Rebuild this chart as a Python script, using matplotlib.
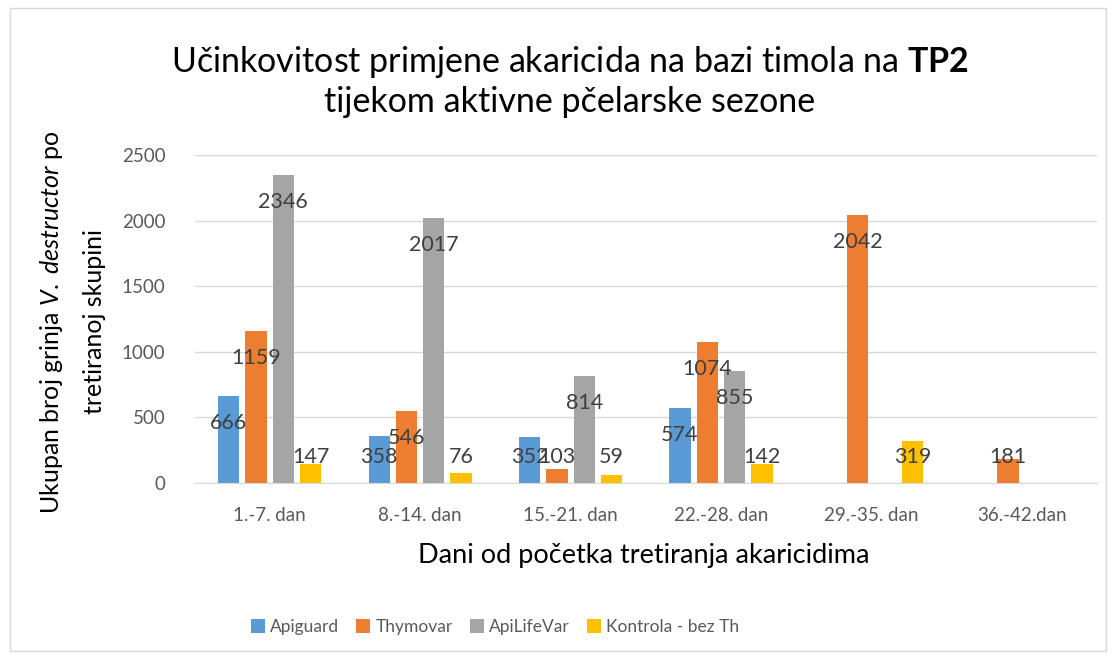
import numpy as np
import matplotlib
matplotlib.use("Agg")
import matplotlib.pyplot as plt
from matplotlib.patches import Rectangle

categories = ["1.-7. dan", "8.-14. dan", "15.-21. dan", "22.-28. dan", "29.-35. dan", "36.-42.dan"]
series_names = ["Apiguard", "Thymovar", "ApiLifeVar", "Kontrola - bez Th"]
apiguard = [666, 358, 352, 574, np.nan, np.nan]
thymovar = [1159, 546, 103, 1074, 2042, 181]
apilifevar = [2346, 2017, 814, 855, np.nan, np.nan]
kontrola = [147, 76, 59, 142, 319, np.nan]
yticks = [0, 500, 1000, 1500, 2000, 2500]
colors = ["#5B9BD5", "#ED7D31", "#A5A5A5", "#FFC000"]

FONT = "Lato"
plt.rcParams['font.family'] = [FONT, 'DejaVu Sans']
plt.rcParams['mathtext.fontset'] = 'custom'
plt.rcParams['mathtext.rm'] = FONT
plt.rcParams['mathtext.it'] = FONT + ':italic'
plt.rcParams['mathtext.bf'] = FONT + ':bold'

fig = plt.figure(figsize=(11.16, 6.59), dpi=100)
fig.patches.append(Rectangle((10/1116, 8/659), 1-20/1116, 1-16/659, transform=fig.transFigure,
                             fill=False, edgecolor="#d9d9d9", linewidth=1))
ax = fig.add_axes([194.5/1116, 1-483/659, 902.5/1116, (483-155)/659])

data = [apiguard, thymovar, apilifevar, kontrola]
x = np.arange(len(categories))
spacing = 0.1815
width = 0.1416
for k, (vals, name, c) in enumerate(zip(data, series_names, colors)):
    offs = (k - 1.5) * spacing
    vals = np.array(vals, dtype=float)
    ax.bar(x + offs, np.nan_to_num(vals), width=width, color=c, label=name, zorder=3)
    for xi, v in zip(x, vals):
        if np.isnan(v):
            continue
        ly = max(v - 206, 198)
        ax.text(xi + offs, ly, f"{int(v)}", ha="center", va="center",
                fontsize=15.5, color="#404040", zorder=5)

ax.set_xlim(-0.5, len(categories) - 0.5)
ax.set_ylim(0, 2500)
ax.set_yticks(yticks)
ax.set_xticks(x)
ax.set_xticklabels(categories)
ax.tick_params(axis="both", length=0, labelsize=13.5, labelcolor="#595959")
ax.tick_params(axis="x", pad=17)
ax.tick_params(axis="y", pad=21)
ax.grid(axis="y", color="#d9d9d9", linewidth=1, zorder=0)
for s in ["top", "right", "left"]:
    ax.spines[s].set_visible(False)
ax.spines["bottom"].set_color("#d9d9d9")
ax.spines["bottom"].set_zorder(4)

fig.text(570/1116, 1-62/659, r"Učinkovitost primjene akaricida na bazi timola na $\mathbf{TP2}$",
         ha="center", va="center", fontsize=24.5, color="#000000")
fig.text(570/1116, 1-102/659, "tijekom aktivne pčelarske sezone",
         ha="center", va="center", fontsize=24.5, color="#000000")

fig.text(52/1116, 1-322/659, r"Ukupan broj grinja $\mathit{V.\ destructor}$ po",
         ha="center", va="center", rotation=90, fontsize=18, color="#000000")
fig.text(94/1116, 1-322/659, "tretiranoj skupini",
         ha="center", va="center", rotation=90, fontsize=18, color="#000000")

fig.text(644/1116, 1-555/659, "Dani od početka tretiranja akaricidima",
         ha="center", va="center", fontsize=19.5, color="#000000")

leg = fig.legend(loc="center", bbox_to_anchor=(495/1116, 1-627/659), ncol=4, frameon=False,
                 fontsize=12.5, handlelength=0.8, handleheight=0.8, columnspacing=1.0,
                 handletextpad=0.3)
for t in leg.get_texts():
    t.set_color("#595959")

fig.savefig("out.png", dpi=100)
